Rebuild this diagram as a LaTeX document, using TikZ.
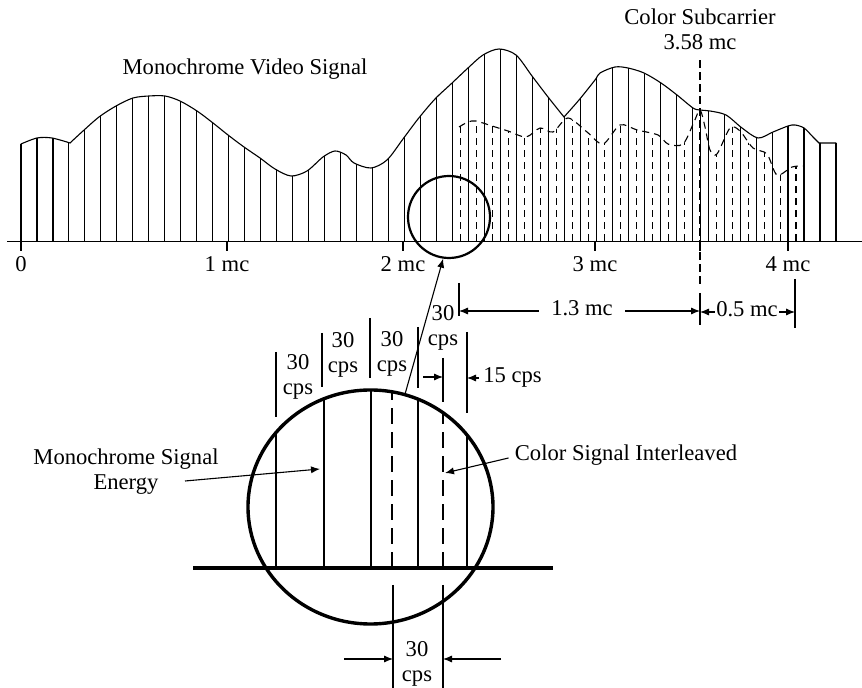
\documentclass[tikz,border=0pt]{standalone}
\usepackage{fontspec}
\setmainfont{Liberation Serif}
\usetikzlibrary{arrows.meta,shapes.geometric}

\tikzset{
  % envelope of the monochrome spectrum (pixel units)
  monoenv/.style={insert path={-- plot[smooth,tension=.5] coordinates {(21,144) (37,138) (52,138) (70,143)}
    -- plot[smooth,tension=.5] coordinates {(70,143) (83,131) (99,117) (116,106) (133,98) (149,96)
    (165,96) (180,101) (197,111) (213,123) (228,135) (244,147) (260,158) (275,169) (291,176)
    (307,171) (323,157) (335,151) (346,155) (354,163) (371,168) (387,160) (403,139) (418,119)
    (435,99) (451,84) (468,68) (483,55) (499,49) (516,55) (532,76) (548,97) (564,117)}
    -- plot[smooth,tension=.5] coordinates {(564,117) (579,100) (595,80) (600,73) (615,67)
    (628,68) (644,73) (661,83) (677,95) (693,108) (700,110) (710,111) (726,115) (742,128)
    (758,138) (773,132) (788,126) (795,125) (804,128) (813,137) (819,143)}}},
  % envelope of the interleaved colour spectrum
  colenv/.style={insert path={-- plot[smooth,tension=.5] coordinates {(459,127) (468,122) (476,121) (492,126)
    (508,131) (526,137) (540,128) (553,132) (568,118) (587,132) (603,144) (620,125) (637,130)
    (658,135) (668,144) (683,144) (694,122) (700,110) (705,127) (710,150) (717,154) (730,128)
    (740,131) (753,148) (767,154) (777,175) (792,167) (804,166)}}}
}

\begin{document}
\begin{tikzpicture}[x=0.5pt,y=-0.5pt,
  font=\fontsize{11.3}{12.5}\selectfont,
  fine/.style={line width=0.55pt},
  mid/.style={line width=1.1pt},
  bold/.style={line width=1.7pt},
  dsh/.style={dash pattern=on 3.5pt off 2.5pt},
  dimtip/.style={fine,-{Latex[length=4.5pt,width=3.6pt]}},
  lbl/.style={inner sep=0pt,align=center}]
  \useasboundingbox (0,0) rectangle (862,688);

  % spectrum bars
  \begin{scope}
    \clip (19,241) -- (19,144) [monoenv] -- (838,143) -- (838,241) -- cycle;
    \foreach \k in {0,...,51}
      \draw[fine] ({21+15.98*\k},241) -- ({21+15.98*\k},0);
  \end{scope}
  \draw[fine] (21,144) [monoenv] -- (836,143);
  \begin{scope}
    \clip (457,241) -- (457,127) [colenv] -- (806,166) -- (806,241) -- cycle;
    \foreach \k in {0,...,21}
      \draw[fine,dsh] ({21+15.98*(\k+27.5)},241) -- ({21+15.98*(\k+27.5)},100);
  \end{scope}
  \draw[fine,dsh] (459,127) [colenv];

  % frequency axis
  \draw[line width=0.65pt] (7,241.5) -- (862,241.5);
  \foreach \x in {21,227,403,595,700,788}
    \draw[fine] (\x,241) -- (\x,251);
  \foreach \x/\t in {21/0,227/1 mc,403/2 mc,595/3 mc,788/4 mc}
    \node[lbl] (f\x) at (\x,264) {\t};

  \node[lbl] (vidlbl) at (245,69) {Monochrome Video Signal};
  \node[lbl] (sublbl) at (700,29.5) {Color Subcarrier\\3.58 mc};
  \coordinate (subfoot) at (700,288);
  \draw[fine,dash pattern=on 4pt off 2pt] ([yshift=-5pt]sublbl.south) -- (subfoot);

  % 1.3 mc and 0.5 mc
  \coordinate (e13l) at (459,311);
  \coordinate (e13r) at (700,311);
  \coordinate (e05r) at (795,312);
  \draw[fine] (459,283) -- (459,316);
  \draw[fine] (700,293) -- (700,325);
  \draw[fine] (795,279) -- (795,328);
  \node[lbl,anchor=mid,inner xsep=6pt] (d13) at (582,311) {1.3 mc};
  \draw[dimtip] (d13.mid west) -- (e13l);
  \draw[dimtip] (d13.mid east) -- (e13r);
  \node[lbl,anchor=mid,inner xsep=0.6pt] (d05) at (747,312) {0.5 mc};
  \draw[dimtip] (d05.mid west) -- (e13r |- d05.mid west);
  \draw[dimtip] (d05.mid east) -- (e05r);

  % magnified region
  \node[draw,circle,mid,minimum size=41pt,inner sep=0pt] (lens) at (449,217) {};
  \begin{scope}
    \clip (370.5,507) ellipse [x radius=61.25pt, y radius=58.5pt];
    \foreach \x in {276,324,371,418,467}
      \draw[mid] (\x,568) -- (\x,380);
    \foreach \x in {392,443}
      \draw[mid,dash pattern=on 8pt off 4pt] (\x,568) -- (\x,380);
  \end{scope}
  \node[draw,bold,ellipse,minimum width=122.5pt,minimum height=117pt,inner sep=0pt]
    (detail) at (370.5,507) {};
  \draw[bold] (193,568) -- (553,568);
  \draw[dimtip] (detail.73.5) -- (lens.262);

  % 30 cps spacings
  \foreach \x/\a/\b in {276/352/417,322/333/387,370/318/378,418/327/388,443/358/402,467/332/413}
    \draw[fine] (\x,\a) -- (\x,\b);
  \foreach \x/\y in {298/377,343/355,392/354,443/328}
    \node[lbl] (c\x) at (\x,\y) {30\\cps};
  \coordinate (h15l) at (423,377);
  \coordinate (h15r) at (443,377);
  \coordinate (h15e) at (467,378);
  \draw[dimtip] (h15l) -- (h15r);
  \node[lbl,anchor=mid west,inner xsep=2pt] (c15) at (479,378) {15 cps};
  \draw[dimtip] (c15.mid west) -- (h15e);

  \draw[fine] (393,585) -- (393,688);
  \draw[fine] (443,585) -- (443,688);
  \node[lbl] (cbot) at (417,664) {30\\cps};
  \coordinate (bl) at (344,659);
  \coordinate (blt) at (393,659);
  \coordinate (br) at (501,659);
  \coordinate (brt) at (443,659);
  \draw[dimtip] (bl) -- (blt);
  \draw[dimtip] (br) -- (brt);

  % callouts
  \node[lbl] (monolbl) at (126,472) {Monochrome Signal\\Energy};
  \coordinate (monofoot) at (185,481);
  \coordinate (monotip) at (320,469);
  \draw[dimtip] (monofoot) -- (monotip);
  \node[lbl,inner xsep=3pt] (collbl) at (626,455) {Color Signal Interleaved};
  \coordinate (coltip) at (445,473);
  \draw[dimtip] ([yshift=-1.5pt]collbl.west) -- (coltip);
\end{tikzpicture}
\end{document}
